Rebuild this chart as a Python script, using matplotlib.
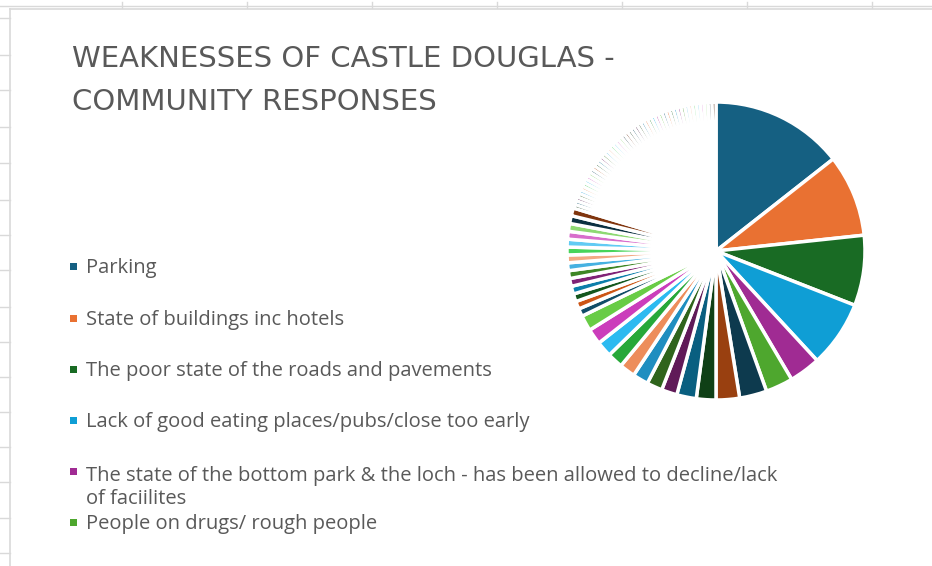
import colorsys
import matplotlib.pyplot as plt
from matplotlib.colors import to_rgb
from matplotlib.patches import Rectangle
from matplotlib.lines import Line2D

W, H = 932, 566

title_lines = ['WEAKNESSES OF CASTLE DOUGLAS -', 'COMMUNITY RESPONSES']

legend_labels = [
    'Parking',
    'State of buildings inc hotels',
    'The poor state of the roads and pavements',
    'Lack of good eating places/pubs/close too early',
    'The state of the bottom park & the loch - has been allowed to decline/lack\nof faciilites',
    'People on drugs/ rough people',
]

# responses per weakness (largest first, clockwise from 12 o'clock)
top_counts = [34, 21, 18, 17, 8, 7]
mid_counts = [7, 6, 5, 5, 4, 4, 4, 4, 4, 4, 4, 4]
small_counts = [2, 2, 2, 2, 2, 2, 2, 2, 2, 2, 2, 2, 2, 2]
single_counts = [1, 1, 1, 1, 1, 1, 1, 1, 1, 1, 1, 1, 1, 1, 1, 1,
                 1, 1, 1, 1, 1, 1, 1, 1, 1, 1, 1, 1, 1, 1, 1, 1,
                 1, 1, 1, 1, 1, 1, 1, 1, 1, 1, 1, 1, 1, 1, 1, 1]
values = top_counts + mid_counts + small_counts + single_counts

# Office theme accents and the shade/tint cycle Excel uses past six points
accents = ['#156082', '#E97132', '#196B24', '#0F9ED5', '#A02B93', '#4EA72E']
shades = [(1.0, 0.0), (0.6, 0.0), (0.8, 0.2), (0.8, 0.0), (0.6, 0.4), (0.5, 0.0),
          (0.7, 0.3), (0.7, 0.0), (0.5, 0.5), (0.4, 0.0), (0.9, 0.1), (0.9, 0.0),
          (0.4, 0.6), (0.3, 0.0)]


def lum(c, mod, off):
    h, l, s = colorsys.rgb_to_hls(*to_rgb(c))
    l = min(1.0, l * mod + off)
    return colorsys.hls_to_rgb(h, l, s)


colors = [lum(accents[i % 6], *shades[(i // 6) % len(shades)]) for i in range(len(values))]

fig = plt.figure(figsize=(W / 100, H / 100), dpi=100)


def px(x, y):
    return x / W, 1 - y / H


# spreadsheet grid peeking out behind the chart
grid = '#d9d9d9'
fig.add_artist(Line2D([0, 1], [1 - 6 / H] * 2, color=grid, lw=1))
for gx in [122, 247, 372, 497, 622, 747, 872]:
    fig.add_artist(Line2D([gx / W] * 2, [1 - 2 / H, 1 - 8 / H], color=grid, lw=1))
for gy in [18, 55, 90, 127, 163, 200, 235, 270, 307, 342, 377, 412, 447, 482, 518, 553]:
    fig.add_artist(Line2D([0, 10 / W], [1 - gy / H] * 2, color=grid, lw=1))
fig.add_artist(Line2D([10 / W, 10 / W], [0, 1 - 9 / H], color=grid, lw=1.2))
fig.add_artist(Line2D([10 / W, 1], [1 - 9 / H] * 2, color=grid, lw=1.2))

# pie
cx, cy, r = 716, 251, 149
ax = fig.add_axes([(cx - r) / W, 1 - (cy + r) / H, 2 * r / W, 2 * r / H])
wedges, _ = ax.pie(values, colors=colors, startangle=90, counterclock=False,
                   wedgeprops=dict(edgecolor='white', linewidth=2.5))
ax.set_xlim(-1, 1)
ax.set_ylim(-1, 1)
ax.axis('off')

# title
txt = '#595959'
for line, base in zip(title_lines, [67, 110]):
    fig.text(*px(72, base), line, fontsize=21, color=txt, family='DejaVu Sans', va='baseline')

# legend (only the first six entries are shown)
legend_font = ['Open Sans', 'DejaVu Sans']
baselines = [273, 325, 376, 427, 478, 529]
line_gap = 26
for w, label, base in zip(wedges, legend_labels, baselines):
    extra = label.count('\n')
    fig.text(*px(86, base + extra * line_gap), label, fontsize=14.5, color=txt,
             family=legend_font, va='baseline', linespacing=1.2)
    fig.add_artist(Rectangle(px(70, base - 3), 7 / W, 7 / H, facecolor=w.get_facecolor(),
                             edgecolor='none'))

fig.savefig('out.png', dpi=100)
